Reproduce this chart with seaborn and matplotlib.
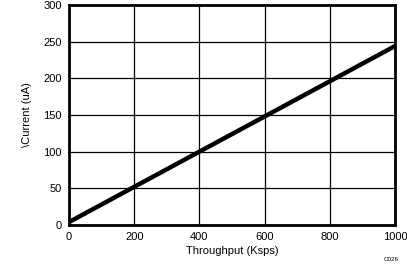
import matplotlib
matplotlib.use("Agg")
import matplotlib.pyplot as plt
import seaborn as sns
import pandas as pd

throughput = [0, 200, 400, 600, 800, 1000]
current = [4, 52, 100, 148, 196, 244]
x_ticks = [0, 200, 400, 600, 800, 1000]
y_ticks = [0, 50, 100, 150, 200, 250, 300]

sns.set_theme(style="white")
plt.rcParams['font.family'] = ['Liberation Sans', 'DejaVu Sans']

df = pd.DataFrame({"Throughput": throughput, "Current": current})

fig = plt.figure(figsize=(4.07, 2.67), dpi=100)
ax = fig.add_axes([69/407, 1 - 225/267, (395-69)/407, (225-5)/267])
sns.lineplot(data=df, x="Throughput", y="Current", ax=ax, color="black", linewidth=3.2)
ax.set_xlim(0, 1000)
ax.set_ylim(0, 300)
ax.set_xticks(x_ticks)
ax.set_yticks(y_ticks)
ax.grid(True, color="black", linewidth=0.9)
for s in ax.spines.values():
    s.set_color("black")
    s.set_linewidth(2)
ax.tick_params(axis="both", length=0, labelsize=8, colors="black", pad=5)
ax.set_xlabel("Throughput (Ksps)", fontsize=8, color="black", labelpad=3)
ax.set_ylabel("\\Current (uA)", fontsize=8, color="black", labelpad=8)
fig.text(399/407, 1 - 262/267, "C026", fontsize=4.5, ha="right", va="bottom", color="black")
fig.savefig("out.png", dpi=100)
